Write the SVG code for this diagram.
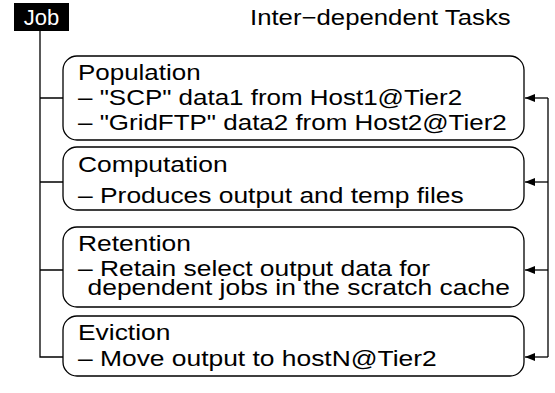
<svg xmlns="http://www.w3.org/2000/svg" width="555" height="393" viewBox="0 0 555 393">
<style>
text{font-family:"Liberation Sans",Arial,sans-serif;font-size:22px;fill:#000}
.box{fill:#fff;stroke:#000;stroke-width:1.3}
.ln{fill:none;stroke:#000;stroke-width:1.3}
</style>
<defs>
<marker id="ah" markerWidth="10" markerHeight="8" refX="10" refY="4" orient="auto" markerUnits="userSpaceOnUse">
<path d="M0,4 L10,0 L10,8 Z" fill="#000" transform="rotate(180 5 4)"/>
</marker>
</defs>
<rect width="555" height="393" fill="#fff"/>
<g id="job">
<rect x="14" y="3" width="55" height="28" fill="#000"/>
<text x="41.5" y="25" text-anchor="middle" style="fill:#fff">Job</text>
</g>
<g id="title" transform="translate(250,0) scale(1.17,1)"><text x="0" y="25">Inter−dependent Tasks</text></g>
<g id="connectors">
<path class="ln" d="M40,31 V357 H63 M40,98 H63 M40,182 H63 M40,270 H63"/>
<path class="ln" d="M548,98 V357"/>
<path class="ln" d="M548,98 H525" marker-end="url(#ah)"/>
<path class="ln" d="M548,182 H525" marker-end="url(#ah)"/>
<path class="ln" d="M548,270 H525" marker-end="url(#ah)"/>
<path class="ln" d="M548,357 H525" marker-end="url(#ah)"/>
</g>
<g id="population">
<rect class="box" x="63" y="56" width="461" height="84" rx="14"/>
<g transform="translate(78,0) scale(1.18,1)">
<text x="0" y="80">Population</text>
<text x="0" y="105">– "SCP" data1 from Host1@Tier2</text>
<text x="0" y="130">– "GridFTP" data2 from Host2@Tier2</text>
</g>
</g>
<g id="computation">
<rect class="box" x="63" y="147" width="461" height="63" rx="14"/>
<g transform="translate(78,0) scale(1.2,1)">
<text x="0" y="172">Computation</text>
<text x="0" y="203">– Produces output and temp files</text>
</g>
</g>
<g id="retention">
<rect class="box" x="63" y="227" width="461" height="80" rx="14"/>
<g transform="translate(78,0) scale(1.2,1)">
<text x="0" y="251">Retention</text>
<text x="0" y="276">– Retain select output data for</text>
<text x="8" y="295">dependent jobs in the scratch cache</text>
</g>
</g>
<g id="eviction">
<rect class="box" x="63" y="316" width="461" height="60" rx="14"/>
<g transform="translate(78,0) scale(1.2,1)">
<text x="0" y="340">Eviction</text>
<text x="0" y="366">– Move output to hostN@Tier2</text>
</g>
</g>
</svg>
